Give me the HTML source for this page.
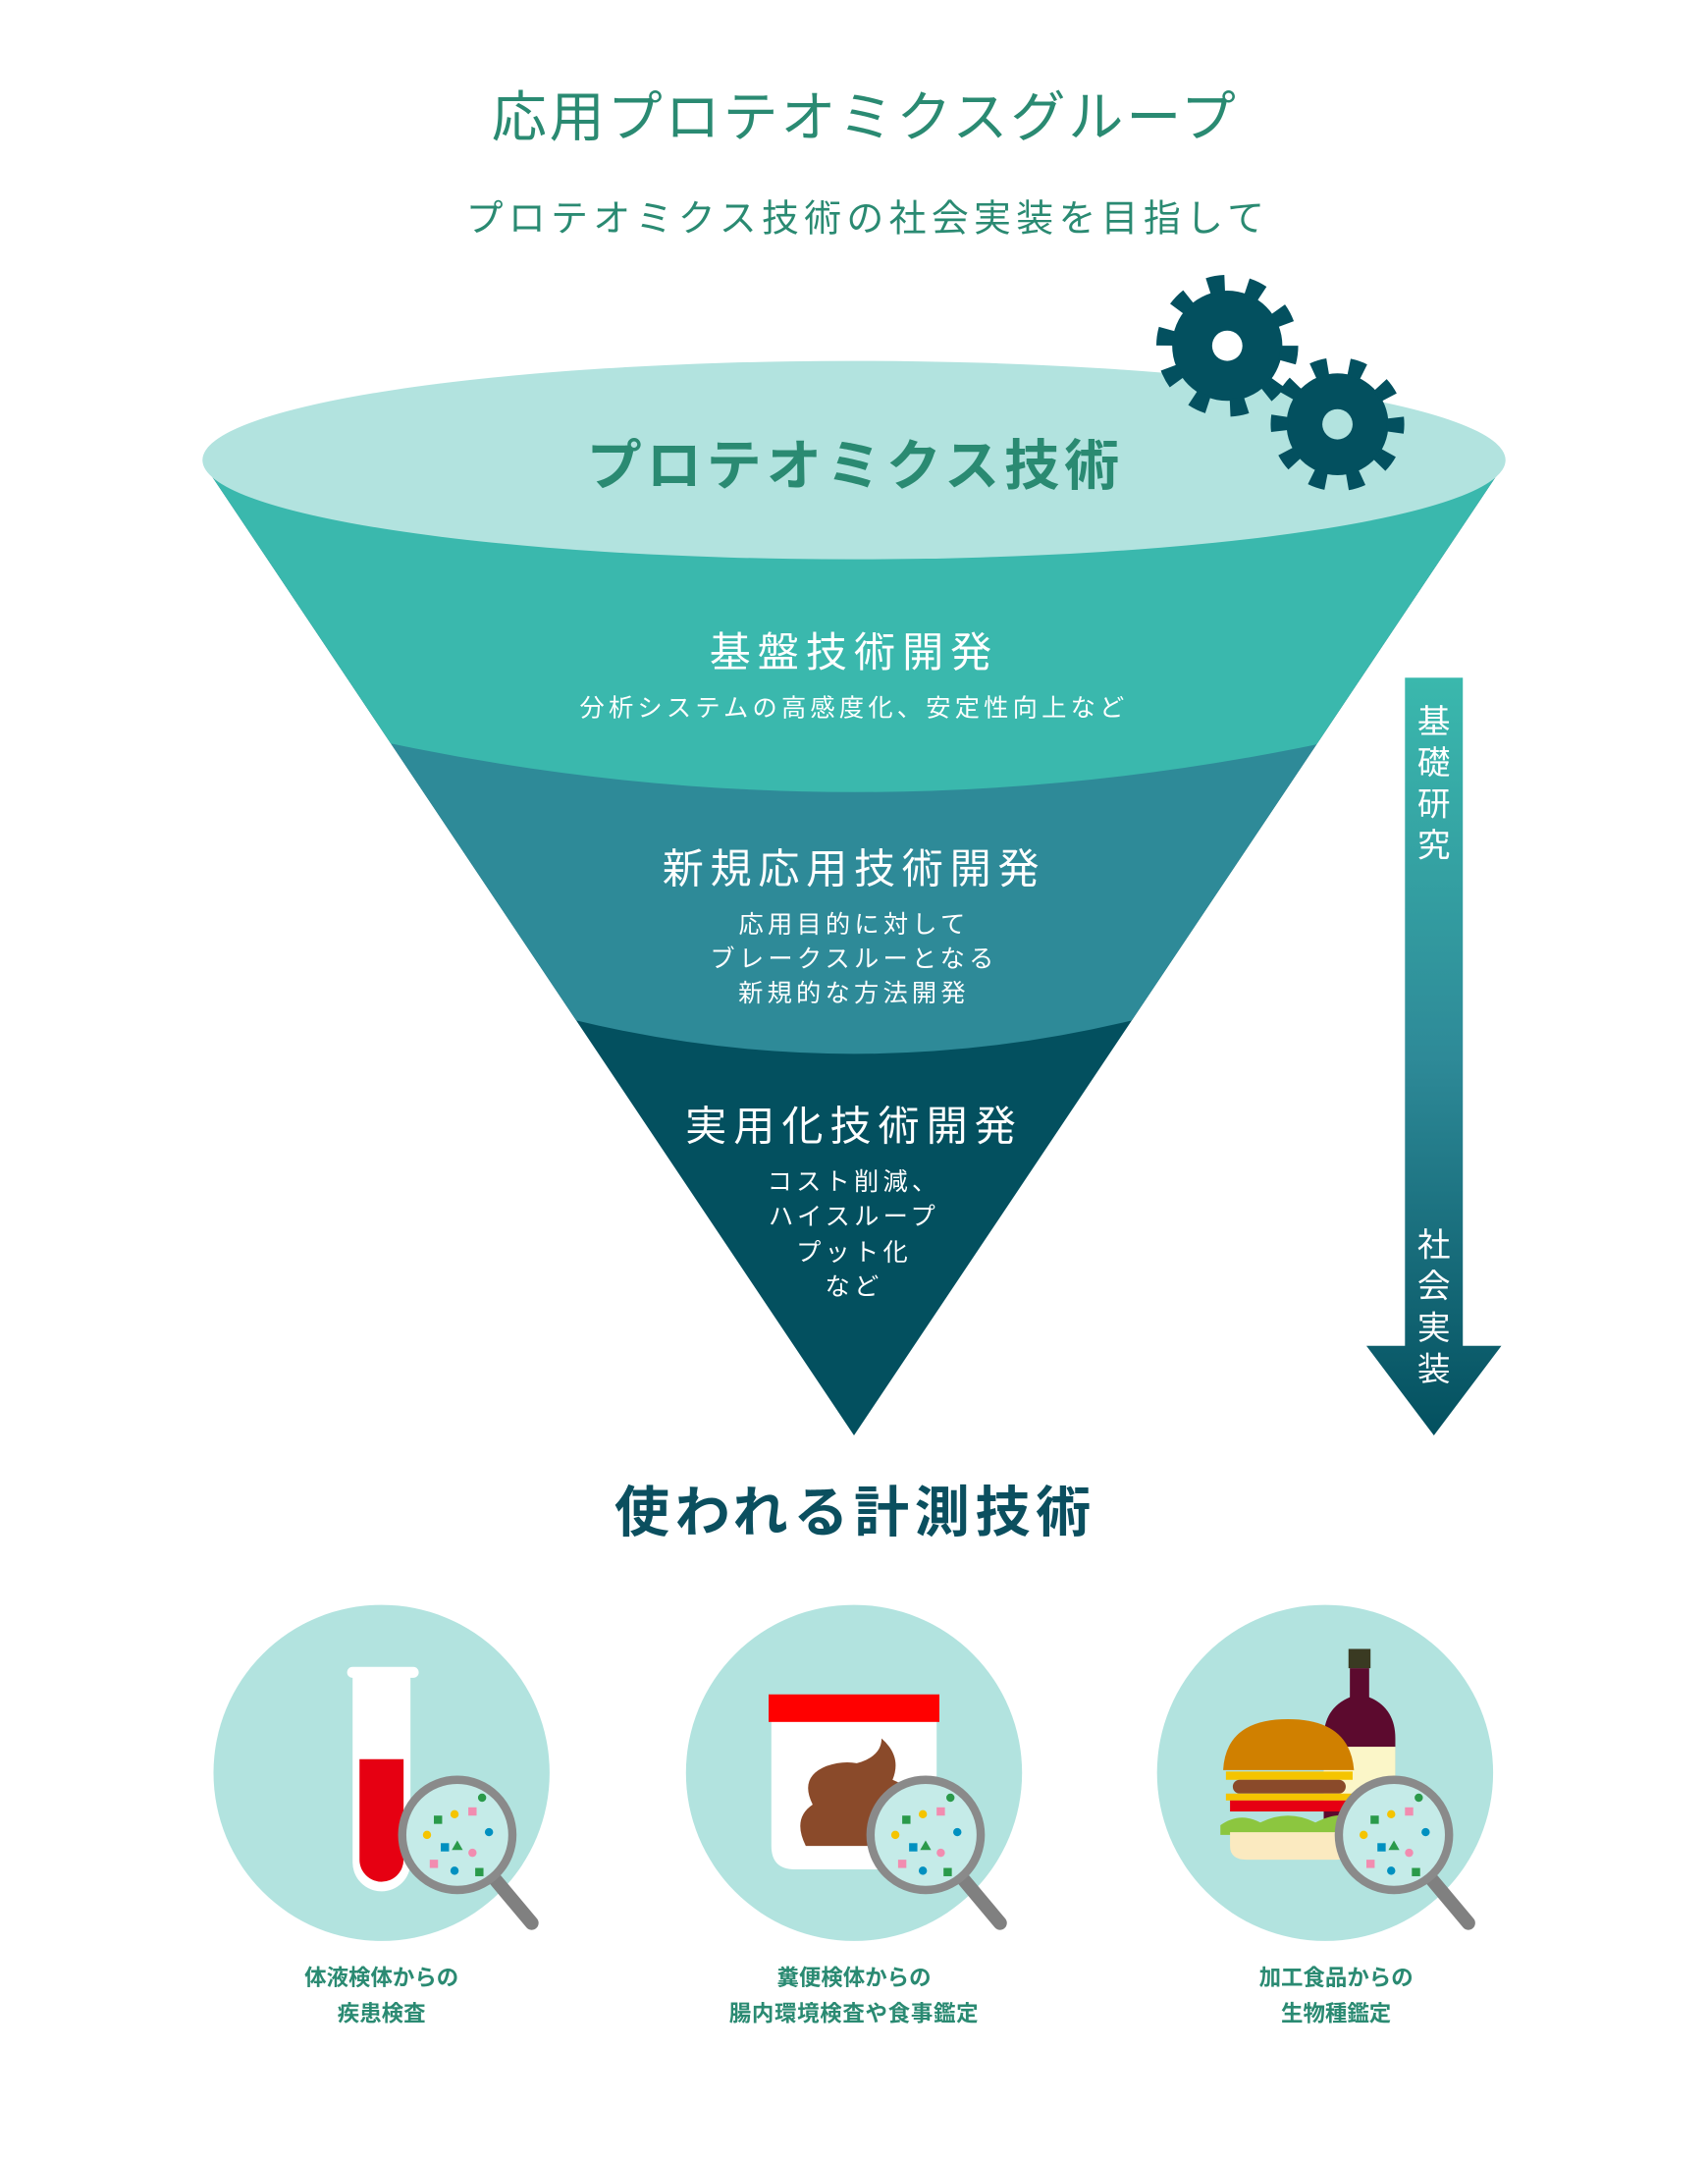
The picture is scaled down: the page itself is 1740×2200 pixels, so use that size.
<!DOCTYPE html>
<html><head><meta charset="utf-8"><style>
html,body{margin:0;padding:0;background:#fff}
svg{display:block}
text{font-family:"Liberation Sans","Noto Sans CJK JP",sans-serif}
</style></head><body>
<svg width="1740" height="2200" viewBox="0 0 1240 1568" preserveAspectRatio="none" xmlns="http://www.w3.org/2000/svg">
<defs>
<linearGradient id="ag" x1="0" y1="0" x2="0" y2="1">
<stop offset="0" stop-color="#3ab8ad"/><stop offset="0.5" stop-color="#2e8a98"/><stop offset="1" stop-color="#03505f"/>
</linearGradient>
<clipPath id="cone"><path d="M150 340 L1090 340 L620 1042 Z"/></clipPath>
</defs>
<text x="628" y="99" text-anchor="middle" font-size="40" fill="#2a8a72" letter-spacing="2">応用プロテオミクスグループ</text>
<text x="630" y="168" text-anchor="middle" font-size="27" fill="#2a8a72" letter-spacing="3.8">プロテオミクス技術の社会実装を目指して</text>

<g clip-path="url(#cone)">
<rect x="100" y="300" width="1040" height="800" fill="#03505f"/>
<path d="M100 300 H1140 V740 L825 740 Q620 790 415 740 L100 740 Z" fill="#2e8a98"/>
<path d="M100 300 H1140 V540 L958 540 Q620 610 285 540 L100 540 Z" fill="#3ab8ad"/>
</g>
<ellipse cx="620" cy="334" rx="473" ry="72" fill="#b2e3df"/>
<text x="621" y="352" text-anchor="middle" font-size="40" font-weight="bold" fill="#2a8a72" letter-spacing="3.5">プロテオミクス技術</text>

<g fill="#03505f">
<circle cx="891" cy="251" r="40"/>
<circle cx="891" cy="251" r="45" fill="none" stroke="#03505f" stroke-width="13" stroke-dasharray="12 16.3"/>
<circle cx="891" cy="251" r="11" fill="#fff"/>
<circle cx="971" cy="308" r="37"/>
<circle cx="971" cy="308" r="42" fill="none" stroke="#03505f" stroke-width="13" stroke-dasharray="11 15.4" stroke-dashoffset="5"/>
<circle cx="971" cy="308" r="11" fill="#b2e3df"/>
</g>

<g fill="#fff" text-anchor="middle">
<text x="620" y="484" font-size="30" letter-spacing="5">基盤技術開発</text>
<text x="620" y="520" font-size="18" letter-spacing="3">分析システムの高感度化、安定性向上など</text>
<text x="620" y="641" font-size="30" letter-spacing="4.8">新規応用技術開発</text>
<text x="620" y="677" font-size="18" letter-spacing="3">応用目的に対して</text>
<text x="620" y="702" font-size="18" letter-spacing="3">ブレークスルーとなる</text>
<text x="620" y="727" font-size="18" letter-spacing="3">新規的な方法開発</text>
<text x="620" y="828" font-size="30" letter-spacing="5">実用化技術開発</text>
<text x="620" y="864" font-size="18" letter-spacing="3">コスト削減、</text>
<text x="620" y="889" font-size="18" letter-spacing="3">ハイスループ</text>
<text x="620" y="915" font-size="18" letter-spacing="3">プット化</text>
<text x="620" y="940" font-size="18" letter-spacing="3">など</text>
</g>

<path d="M1020 492 H1062 V977 H1090 L1041 1042 L992 977 H1020 Z" fill="url(#ag)"/>
<g fill="#fff" font-size="24" text-anchor="middle">
<text x="1041" y="532">基</text><text x="1041" y="562">礎</text><text x="1041" y="592">研</text><text x="1041" y="622">究</text>
<text x="1041" y="912">社</text><text x="1041" y="942">会</text><text x="1041" y="972">実</text><text x="1041" y="1002">装</text>
</g>

<text x="621" y="1112" text-anchor="middle" font-size="40" font-weight="bold" fill="#0b4f5f" letter-spacing="4">使われる計測技術</text>

<circle cx="277" cy="1287" r="122" fill="#b2e3df"/>
<circle cx="620" cy="1287" r="122" fill="#b2e3df"/>
<circle cx="962" cy="1287" r="122" fill="#b2e3df"/>

<rect x="252" y="1210" width="52" height="8" rx="4" fill="#fff"/>
<path d="M256 1216 H298 V1352 A21 21 0 0 1 256 1352 Z" fill="#fff"/>
<path d="M261 1277 H293 V1350 A16 16 0 0 1 261 1350 Z" fill="#e60012"/>
<path d="M560 1248 H680 V1340 Q680 1357 663 1357 H577 Q560 1357 560 1340 Z" fill="#fff"/>
<rect x="558" y="1230" width="124" height="20" fill="#f00"/>
<path d="M585 1340 Q575 1320 590 1310 Q580 1290 600 1282 Q612 1278 622 1280 Q640 1275 640 1262 Q655 1275 648 1292 Q668 1300 660 1318 Q672 1335 650 1340 Z" fill="#8a4a2a"/>
<rect x="979" y="1197" width="16" height="14" fill="#3a3a22"/>
<path d="M980 1211 H994 V1232 Q1013 1240 1013 1262 V1345 H961 V1262 Q961 1240 980 1232 Z" fill="#5c0a2e"/>
<rect x="961" y="1268" width="52" height="40" fill="#fbf6c8"/>
<path d="M888 1285 Q890 1248 935 1248 Q980 1248 983 1285 Z" fill="#d08000"/>
<rect x="890" y="1286" width="92" height="6" fill="#f5c400"/>
<rect x="895" y="1292" width="82" height="10" rx="5" fill="#8a4a2a"/>
<rect x="890" y="1302" width="92" height="5" fill="#f5c400"/>
<rect x="893" y="1307" width="86" height="8" fill="#e60012"/>
<path d="M886 1325 Q900 1315 915 1323 Q935 1313 955 1323 Q975 1313 985 1322 V1332 H886 Z" fill="#8cc63f"/>
<path d="M893 1330 H982 V1340 Q982 1350 970 1350 H905 Q893 1350 893 1340 Z" fill="#fbeac0"/>

<g id="mag">
<line x1="360" y1="1365" x2="386" y2="1396" stroke="#808080" stroke-width="10" stroke-linecap="round"/>
<circle cx="332" cy="1332" r="40" fill="#c5ebe8" stroke="#8a8a8a" stroke-width="6"/>
<g>
<rect x="315" y="1318" width="6" height="6" fill="#2a9a4a"/><circle cx="330" cy="1317" r="3" fill="#f5c400"/>
<rect x="340" y="1312" width="6" height="6" fill="#f28cb0"/><circle cx="350" cy="1305" r="3" fill="#2a9a4a"/>
<circle cx="310" cy="1332" r="3" fill="#f5c400"/><rect x="320" y="1338" width="6" height="6" fill="#0090c0"/>
<path d="M332 1336 l4 7 h-8 z" fill="#2a9a4a"/><circle cx="343" cy="1345" r="3" fill="#f28cb0"/>
<rect x="312" y="1350" width="6" height="6" fill="#f28cb0"/><circle cx="330" cy="1358" r="3" fill="#0090c0"/>
<rect x="345" y="1356" width="6" height="6" fill="#2a9a4a"/><circle cx="355" cy="1330" r="3" fill="#0090c0"/>
</g>
</g>
<use href="#mag" x="340" y="0"/>
<use href="#mag" x="680" y="0"/>

<g font-size="16" font-weight="bold" fill="#2a8a72" text-anchor="middle">
<text x="277" y="1441">体液検体からの</text><text x="277" y="1467">疾患検査</text>
<text x="620" y="1441">糞便検体からの</text><text x="620" y="1467" letter-spacing="0.5">腸内環境検査や食事鑑定</text>
<text x="970" y="1441">加工食品からの</text><text x="970" y="1467">生物種鑑定</text>
</g>
</svg>
</body></html>
